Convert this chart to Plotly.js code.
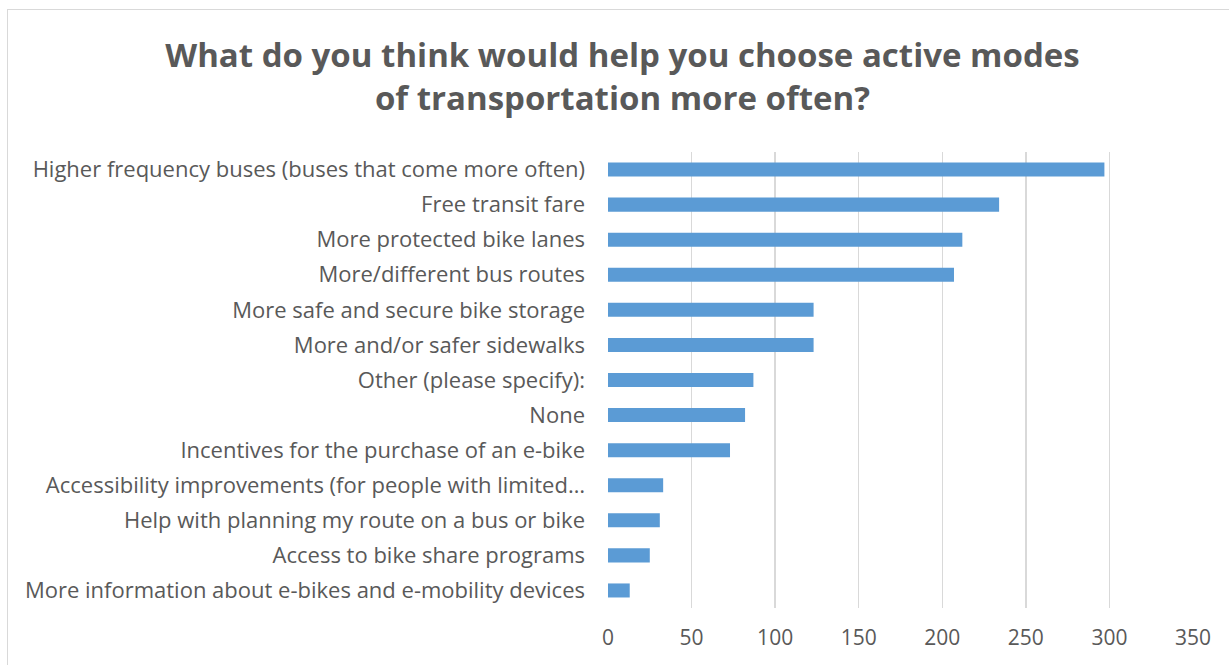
<!DOCTYPE html>
<html>
<head>
<meta charset="utf-8">
<script src="https://cdn.plot.ly/plotly-3.0.1.min.js"></script>
<style>
  html, body { margin:0; padding:0; width:1229px; height:665px; overflow:hidden; background:#fff; }
  #chart { position:absolute; left:0; top:0; width:1229px; height:665px; }
  #frame { position:absolute; left:7px; top:9px; width:1400px; height:800px; border:1px solid #d9d9d9; pointer-events:none; }
</style>
</head>
<body>
<div id="chart"></div>
<div id="frame"></div>
<script>
const categories = [
  "Higher frequency buses (buses that come more often)",
  "Free transit fare",
  "More protected bike lanes",
  "More/different bus routes",
  "More safe and secure bike storage",
  "More and/or safer sidewalks",
  "Other (please specify):",
  "None",
  "Incentives for the purchase of an e-bike",
  "Accessibility improvements (for people with limited…",
  "Help with planning my route on a bus or bike",
  "Access to bike share programs",
  "More information about e-bikes and e-mobility devices"
];
const counts = [297, 234, 212, 207, 123, 123, 87, 82, 73, 33, 31, 25, 13];
const xTickValues = [0, 50, 100, 150, 200, 250, 300, 350];
const titleText = "What do you think would help you choose active modes<br>of transportation more often?";

const trace = {
  type: "bar",
  orientation: "h",
  x: counts,
  y: categories,
  marker: { color: "#5B9BD5", line: { color: "#5B9BD5", width: 0 } },
  width: 0.4,
  hoverinfo: "x+y"
};

const layout = {
  width: 1229,
  height: 665,
  margin: { l: 608, r: 36, t: 152, b: 57, pad: 0 },
  paper_bgcolor: "rgba(0,0,0,0)",
  plot_bgcolor: "rgba(0,0,0,0)",
  showlegend: false,
  title: {
    text: titleText,
    font: { family: "Open Sans, sans-serif", size: 33, color: "#595959", weight: "bold" },
    xref: "container", x: 0.5065, xanchor: "center",
    yref: "container", y: 0.8995, yanchor: "middle"
  },
  xaxis: {
    range: [0, 350],
    tickvals: xTickValues,
    ticktext: xTickValues.map(String),
    showgrid: true,
    gridcolor: "#d9d9d9",
    gridwidth: 1.5,
    zeroline: false,
    showline: false,
    ticks: "",
    tickfont: { family: "Open Sans, sans-serif", size: 21, color: "#595959" },
    ticklabelstandoff: 15,
    fixedrange: true
  },
  yaxis: {
    type: "category",
    autorange: "reversed",
    showgrid: false,
    zeroline: false,
    showline: false,
    ticks: "",
    tickfont: { family: "Open Sans, sans-serif", size: 22, color: "#595959" },
    ticklabelstandoff: 22,
    fixedrange: true
  }
};

Plotly.newPlot("chart", [trace], layout, { displayModeBar: false, staticPlot: true });
</script>
</body>
</html>
